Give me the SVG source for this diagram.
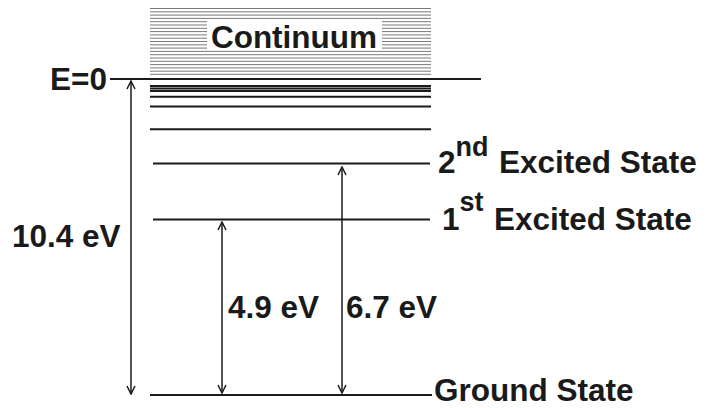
<svg xmlns="http://www.w3.org/2000/svg" width="717" height="408" viewBox="0 0 717 408">
<style>
.t{font-family:"Liberation Sans",Arial,sans-serif;font-weight:bold;font-size:31.5px;fill:#1a1a1a}
.sup{font-size:27px}
.h{stroke:#7a7a7a;stroke-width:1}
.lv{stroke:#1a1a1a;stroke-width:2}
.ar{stroke:#1a1a1a;stroke-width:1.5;fill:none}
</style>
<defs>
<marker id="ah" viewBox="0 0 10 10" refX="9" refY="5" markerWidth="10" markerHeight="10" markerUnits="userSpaceOnUse" orient="auto-start-reverse">
<path d="M1,1 L9,5 L1,9" fill="none" stroke="#1a1a1a" stroke-width="1.5"/>
</marker>
</defs>
<rect width="717" height="408" fill="#fff"/>
<g id="continuum">
<g class="h">
<line x1="150" y1="8.5" x2="431" y2="8.5"/>
<line x1="150" y1="11.8" x2="431" y2="11.8"/>
<line x1="150" y1="15.1" x2="431" y2="15.1"/>
<line x1="150" y1="18.4" x2="431" y2="18.4"/>
<line x1="150" y1="21.7" x2="431" y2="21.7"/>
<line x1="150" y1="25" x2="431" y2="25"/>
<line x1="150" y1="28.3" x2="431" y2="28.3"/>
<line x1="150" y1="31.6" x2="431" y2="31.6"/>
<line x1="150" y1="34.9" x2="431" y2="34.9"/>
<line x1="150" y1="38.2" x2="431" y2="38.2"/>
<line x1="150" y1="41.5" x2="431" y2="41.5"/>
<line x1="150" y1="44.8" x2="431" y2="44.8"/>
<line x1="150" y1="48.1" x2="431" y2="48.1"/>
<line x1="150" y1="51.4" x2="431" y2="51.4"/>
<line x1="150" y1="54.7" x2="431" y2="54.7"/>
<line x1="150" y1="58" x2="431" y2="58"/>
<line x1="150" y1="61.3" x2="431" y2="61.3"/>
<line x1="150" y1="64.6" x2="431" y2="64.6"/>
<line x1="150" y1="67.9" x2="431" y2="67.9"/>
<line x1="150" y1="71.2" x2="431" y2="71.2"/>
<line x1="150" y1="74.3" x2="431" y2="74.3"/>
</g>
<rect x="207" y="20" width="175" height="30" fill="#fff"/>
<text class="t" x="294" y="48" text-anchor="middle">Continuum</text>
</g>
<g id="e0">
<line class="lv" x1="110" y1="79" x2="481" y2="79"/>
<text class="t" x="107" y="90" text-anchor="end">E=0</text>
</g>
<g id="rydberg">
<line class="lv" x1="150" y1="86" x2="431" y2="86"/>
<line class="lv" x1="150" y1="88.6" x2="431" y2="88.6"/>
<line class="lv" x1="150" y1="91" x2="431" y2="91"/>
<line class="lv" x1="150" y1="96.7" x2="431" y2="96.7"/>
<line class="lv" x1="150" y1="106.5" x2="431" y2="106.5"/>
<line class="lv" x1="150" y1="129.3" x2="431" y2="129.3"/>
</g>
<g id="second">
<line class="lv" x1="153" y1="163.5" x2="430" y2="163.5"/>
<text class="t" x="438" y="173">2<tspan class="sup" dy="-17">nd</tspan><tspan x="499" dy="17">Excited State</tspan></text>
</g>
<g id="first">
<line class="lv" x1="153" y1="219.5" x2="430" y2="219.5"/>
<text class="t" x="442" y="230">1<tspan class="sup" dy="-19">st</tspan><tspan x="494" dy="19">Excited State</tspan></text>
</g>
<g id="ground">
<line class="lv" x1="150" y1="395" x2="432" y2="395"/>
<text class="t" x="434" y="401">Ground State</text>
</g>
<g id="connectors">
<line class="ar" x1="131" y1="81" x2="131" y2="394" marker-start="url(#ah)" marker-end="url(#ah)"/>
<line class="ar" x1="222" y1="222" x2="222" y2="393" marker-start="url(#ah)" marker-end="url(#ah)"/>
<line class="ar" x1="342" y1="167" x2="342" y2="393" marker-start="url(#ah)" marker-end="url(#ah)"/>
</g>
<g id="labels">
<text class="t" x="12" y="247">10.4 eV</text>
<text class="t" x="228" y="318">4.9 eV</text>
<text class="t" x="346" y="318">6.7 eV</text>
</g>
</svg>
